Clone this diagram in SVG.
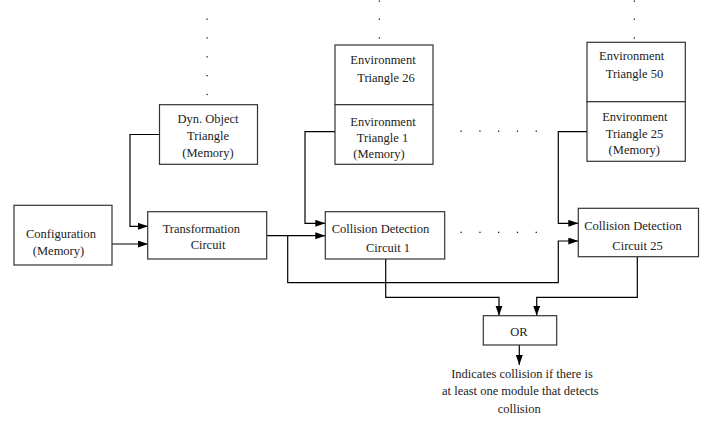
<svg xmlns="http://www.w3.org/2000/svg" width="703" height="424" viewBox="0 0 703 424">
  <defs>
    <marker id="arrow" markerUnits="userSpaceOnUse" markerWidth="11" markerHeight="8" refX="10" refY="3.5" orient="auto">
      <path d="M0,0 L10,3.5 L0,7 z" fill="#000"/>
    </marker>
  </defs>
  <style>
    .box { fill: #fff; stroke: #333; stroke-width: 1.2; }
    .wire { fill: none; stroke: #000; stroke-width: 1.2; }
    .arr { marker-end: url(#arrow); }
    text { font-family: "Liberation Serif", "Times New Roman", serif; font-size: 12.5px; fill: #222; text-anchor: middle; }
    .dot { fill: #222; }
  </style>
  <rect width="703" height="424" fill="#fff"/>

  <!-- ellipsis dots -->
  <g id="dots">
    <rect class="dot" x="206.5" y="18.5" width="1.3" height="1.3"/>
    <rect class="dot" x="206.5" y="37.3" width="1.3" height="1.3"/>
    <rect class="dot" x="206.5" y="56.2" width="1.3" height="1.3"/>
    <rect class="dot" x="206.5" y="75" width="1.3" height="1.3"/>
    <rect class="dot" x="206.5" y="93.8" width="1.3" height="1.3"/>

    <rect class="dot" x="378.7" y="0.5" width="1.3" height="1.3"/>
    <rect class="dot" x="378.7" y="18.5" width="1.3" height="1.3"/>
    <rect class="dot" x="378.7" y="37.3" width="1.3" height="1.3"/>

    <rect class="dot" x="633.7" y="0.5" width="1.3" height="1.3"/>
    <rect class="dot" x="633.7" y="18.5" width="1.3" height="1.3"/>
    <rect class="dot" x="633.7" y="37.3" width="1.3" height="1.3"/>

    <rect class="dot" x="460.5" y="130.5" width="1.3" height="1.3"/>
    <rect class="dot" x="479.3" y="130.5" width="1.3" height="1.3"/>
    <rect class="dot" x="498" y="130.5" width="1.3" height="1.3"/>
    <rect class="dot" x="516.8" y="130.5" width="1.3" height="1.3"/>
    <rect class="dot" x="535.6" y="130.5" width="1.3" height="1.3"/>

    <rect class="dot" x="460.5" y="231.7" width="1.3" height="1.3"/>
    <rect class="dot" x="479.3" y="231.7" width="1.3" height="1.3"/>
    <rect class="dot" x="498" y="231.7" width="1.3" height="1.3"/>
    <rect class="dot" x="516.8" y="231.7" width="1.3" height="1.3"/>
    <rect class="dot" x="535.6" y="231.7" width="1.3" height="1.3"/>
  </g>

  <!-- connectors -->
  <g id="connectors">
    <path class="wire arr" d="M159.5,134.5 H130 V226.3 H148"/>
    <path class="wire arr" d="M112,244 H148"/>
    <path class="wire arr" d="M266.7,235.7 H325.3"/>
    <path class="wire arr" d="M287.7,235.7 V282.7 H558.3 V241 H578.3"/>
    <path class="wire arr" d="M335,131.7 H305 V223.3 H325.3"/>
    <path class="wire arr" d="M587,131.7 H558.3 V223.3 H578.3"/>
    <path class="wire arr" d="M385.7,259 V297.3 H499 V315.7"/>
    <path class="wire arr" d="M637.3,256.7 V297.3 H536.7 V315.7"/>
    <path class="wire arr" d="M519.3,345 V365"/>
  </g>

  <g id="dyn-object-triangle">
    <rect class="box" x="159.5" y="104.7" width="98" height="59.6"/>
    <text x="208" y="123">Dyn. Object</text>
    <text x="208" y="140">Triangle</text>
    <text x="208" y="157.3">(Memory)</text>
  </g>

  <g id="env-triangle-26">
    <rect class="box" x="335" y="45" width="98" height="59.7"/>
    <text x="383" y="63.5">Environment</text>
    <text x="386" y="81.5">Triangle 26</text>
  </g>

  <g id="env-triangle-1">
    <rect class="box" x="335" y="104.7" width="98" height="59.6"/>
    <text x="383" y="126">Environment</text>
    <text x="382.5" y="141.5">Triangle 1</text>
    <text x="379" y="158">(Memory)</text>
  </g>

  <g id="env-triangle-50">
    <rect class="box" x="587" y="42.3" width="98.3" height="59.4"/>
    <text x="631.7" y="60">Environment</text>
    <text x="634.5" y="77.7">Triangle 50</text>
  </g>

  <g id="env-triangle-25">
    <rect class="box" x="587" y="101.7" width="98.3" height="59.6"/>
    <text x="634.8" y="120.7">Environment</text>
    <text x="634.5" y="137.5">Triangle 25</text>
    <text x="634.3" y="154.3">(Memory)</text>
  </g>

  <g id="configuration">
    <rect class="box" x="14" y="205.3" width="98" height="59.7"/>
    <text x="61" y="238.3">Configuration</text>
    <text x="58.5" y="255.3">(Memory)</text>
  </g>

  <g id="transformation-circuit">
    <rect class="box" x="147.7" y="211.7" width="119" height="47.3"/>
    <text x="201.3" y="233.3">Transformation</text>
    <text x="208" y="249.3">Circuit</text>
  </g>

  <g id="collision-detection-1">
    <rect class="box" x="325.3" y="211.7" width="119.4" height="47.3"/>
    <text x="380.5" y="233.3">Collision Detection</text>
    <text x="388" y="251.7">Circuit 1</text>
  </g>

  <g id="collision-detection-25">
    <rect class="box" x="578.3" y="208.3" width="120.2" height="48.4"/>
    <text x="633" y="230">Collision Detection</text>
    <text x="637.5" y="250">Circuit 25</text>
  </g>

  <g id="or-gate">
    <rect class="box" x="483.3" y="315.7" width="73.4" height="29.3"/>
    <text x="519" y="335.7">OR</text>
  </g>

  <g id="result-note">
    <text x="522" y="377.7">Indicates collision if there is</text>
    <text x="520.3" y="395">at least one module that detects</text>
    <text x="519.2" y="412.7">collision</text>
  </g>
</svg>
